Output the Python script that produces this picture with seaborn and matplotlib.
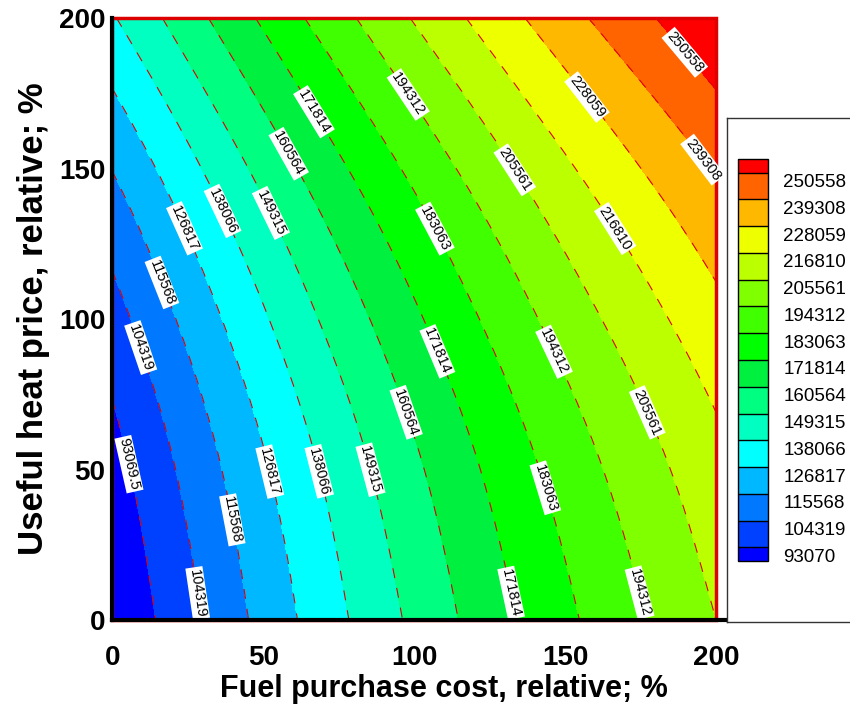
import numpy as np
import matplotlib
matplotlib.use("Agg")
import matplotlib.pyplot as plt
import matplotlib.tri as mtri
from matplotlib.colors import ListedColormap, BoundaryNorm
from matplotlib.transforms import ScaledTranslation
import seaborn as sns

sns.set_theme(style="white")
plt.rcParams['font.family'] = ['Liberation Sans', 'DejaVu Sans']
plt.rcParams['text.color'] = 'black'
plt.rcParams['axes.labelcolor'] = 'black'

# relative fuel cost (x) and relative heat price (y), %
fuel_cost = [0, 50, 100, 150, 200]
heat_price = [0, 50, 100, 150, 200]
# values, rows = heat price, cols = fuel cost
value_grid = [
    [82400, 119000, 151700, 180600, 205600],
    [88600, 125400, 158500, 187700, 213000],
    [99700, 136700, 169900, 199200, 224600],
    [115900, 152800, 185800, 215000, 240400],
    [137000, 173600, 206400, 235300, 260400],
]

levels = [93069.5, 104319, 115568, 126817, 138066, 149315, 160564, 171814,
          183063, 194312, 205561, 216810, 228059, 239308, 250558]
legend_labels = ['93070', '104319', '115568', '126817', '138066', '149315',
                 '160564', '171814', '183063', '194312', '205561', '216810',
                 '228059', '239308', '250558']
line_labels = ['93069.5'] + legend_labels[1:]

# where the labels sit on the lines
label_spots = [(4.3, 51.5), (7, 89.7), (10, 109.6), (22.7, 129.6), (36.7, 136),
               (51, 134.5), (57.7, 154.5), (66, 168.4), (106, 129.6), (97.7, 174.4),
               (132.7, 149.2), (166.7, 130.2), (156.7, 173.4), (195.3, 152.8),
               (189.3, 188.4),
               (28.7, 9), (39.3, 33.2), (51.7, 49.2), (67.7, 49.2), (85, 49.8),
               (96.7, 68.8), (107, 89), (143.3, 43.9), (146, 89), (176.7, 68.8),
               (132, 9), (174.3, 9)]

fill_colors = ['#0000FF', '#0040FF', '#0078FF', '#00B8FF', '#00FFFF', '#00FFC0',
               '#00FF80', '#00F040', '#00FF00', '#40FF00', '#80FF00', '#BBFF00',
               '#EEFF00', '#FFB800', '#FF6400', '#FF0000']
palette = sns.color_palette(fill_colors)
cmap = ListedColormap(palette[1:-1]).with_extremes(under=palette[0], over=palette[-1])
norm = BoundaryNorm(levels, cmap.N)

X, Y = np.meshgrid(fuel_cost, heat_price)
Z = np.array(value_grid, dtype=float)
tri = mtri.Triangulation(X.ravel(), Y.ravel())
interp = mtri.CubicTriInterpolator(tri, Z.ravel(), kind='min_E')
tri_f, z_f = mtri.UniformTriRefiner(tri).refine_field(Z.ravel(), triinterpolator=interp, subdiv=4)

fig = plt.figure(figsize=(8.5, 7.09), dpi=100)
ax = fig.add_axes([0.132, 0.1255, 0.78, 0.849])

cf = ax.tricontourf(tri_f, z_f, levels=levels, cmap=cmap, norm=norm, extend='both')
cs = ax.tricontour(tri_f, z_f, levels=levels, colors='#e00000', linewidths=0.8,
                   linestyles=[(0, (9, 9))])

ax.set_xlim(0, 219.5)
ax.set_ylim(0, 200)
ax.set_xticks(fuel_cost)
ax.set_yticks(heat_price)

# red outline of the data zone
ax.add_patch(plt.Rectangle((fuel_cost[0], heat_price[0]), fuel_cost[-1] - fuel_cost[0],
                           heat_price[-1] - heat_price[0], fill=False, ec='#dd0000', lw=2.5,
                           zorder=3, clip_on=False))

fmt = dict(zip(levels, line_labels))
texts = ax.clabel(cs, levels, manual=label_spots, inline=False, fontsize=10.5,
                  fmt=fmt, colors='black')
for t in texts:
    t.set_bbox(dict(facecolor='white', edgecolor='none', pad=1.2))

for side in ['top', 'right']:
    ax.spines[side].set_visible(False)
for side in ['left', 'bottom']:
    ax.spines[side].set_color('black')
    ax.spines[side].set_linewidth(3)
    ax.spines[side].set_zorder(5)
ax.tick_params(axis='both', length=0, labelsize=20, colors='black')
ax.tick_params(axis='x', pad=18)
ax.tick_params(axis='y', pad=5)
for lbl in ax.get_xticklabels() + ax.get_yticklabels():
    lbl.set_fontweight('bold')
ax.set_xlabel('Fuel purchase cost, relative; %', fontsize=22, fontweight='bold', labelpad=2)
ax.set_ylabel('Useful heat price, relative; %', fontsize=25, fontweight='bold', labelpad=6)
ax.grid(False)

# legend panel
ax_leg = fig.add_axes([727 / 850, 87 / 709, 0.2, 504 / 709])
ax_leg.set_xticks([])
ax_leg.set_yticks([])
ax_leg.set_facecolor('white')
for s in ax_leg.spines.values():
    s.set_color('#333333')
    s.set_linewidth(1)

cax = fig.add_axes([738 / 850, 148.3 / 709, 30 / 850, 401.4 / 709])
cb = fig.colorbar(cf, cax=cax, ticks=levels, extendrect=True, extendfrac=0.5 / 14,
                  drawedges=True)
cb.outline.set_edgecolor('black')
cb.outline.set_linewidth(1)
cb.dividers.set_color('black')
cb.dividers.set_linewidth(1)
cb.ax.set_yticklabels(legend_labels)
cb.ax.tick_params(length=0, labelsize=13.5, pad=11, colors='black')
shift = ScaledTranslation(0, -8 / 100, fig.dpi_scale_trans)
for lbl in cb.ax.get_yticklabels():
    lbl.set_transform(lbl.get_transform() + shift)

fig.savefig('out.png', dpi=100)
